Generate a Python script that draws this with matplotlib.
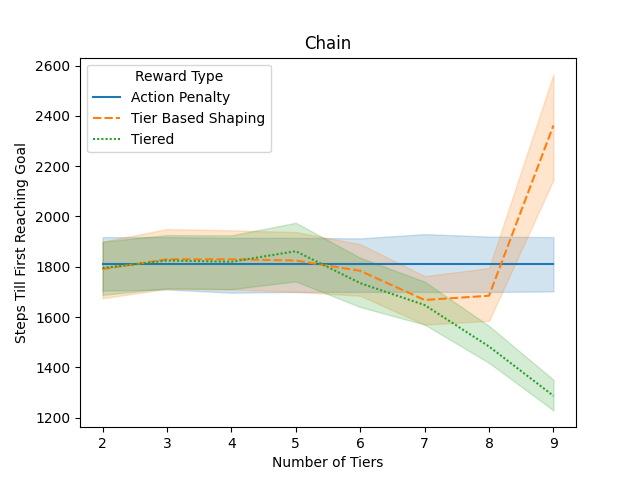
import matplotlib
matplotlib.use('Agg')
import matplotlib.pyplot as plt

# number of tiers on the x axis
tiers = [2, 3, 4, 5, 6, 7, 8, 9]

# Action Penalty: mean and confidence band
ap_mean = [1811, 1811, 1811, 1811, 1811, 1811, 1811, 1811]
ap_low  = [1705, 1710, 1697, 1700, 1700, 1700, 1700, 1702]
ap_high = [1918, 1918, 1915, 1915, 1913, 1930, 1920, 1918]

# Tier Based Shaping
tbs_mean = [1791, 1830, 1830, 1825, 1784, 1668, 1685, 2362]
tbs_low  = [1675, 1712, 1710, 1700, 1685, 1570, 1585, 2145]
tbs_high = [1900, 1950, 1945, 1938, 1890, 1763, 1795, 2565]

# Tiered
t_mean = [1795, 1825, 1820, 1862, 1735, 1648, 1483, 1287]
t_low  = [1688, 1715, 1711, 1742, 1640, 1570, 1418, 1229]
t_high = [1900, 1926, 1925, 1975, 1836, 1741, 1565, 1351]

fig, ax = plt.subplots(figsize=(6.4, 4.8), dpi=100)

series = [
    ('Action Penalty', ap_mean, ap_low, ap_high, '#1f77b4', '-'),
    ('Tier Based Shaping', tbs_mean, tbs_low, tbs_high, '#ff7f0e', (0, (4, 1.5))),
    ('Tiered', t_mean, t_low, t_high, '#2ca02c', (0, (1, 1))),
]

for name, mean, low, high, color, ls in series:
    # band with faint edges, like seaborn's error band
    ax.fill_between(tiers, low, high, color=color, alpha=0.2, linewidth=1)
    ax.plot(tiers, mean, color=color, linestyle=ls, linewidth=1.5, label=name)

ax.set_title('Chain')
ax.set_xlabel('Number of Tiers')
ax.set_ylabel('Steps Till First Reaching Goal')
ax.set_xticks(tiers)
ax.legend(title='Reward Type', loc='upper left')

plt.savefig('out.png', dpi=100)
